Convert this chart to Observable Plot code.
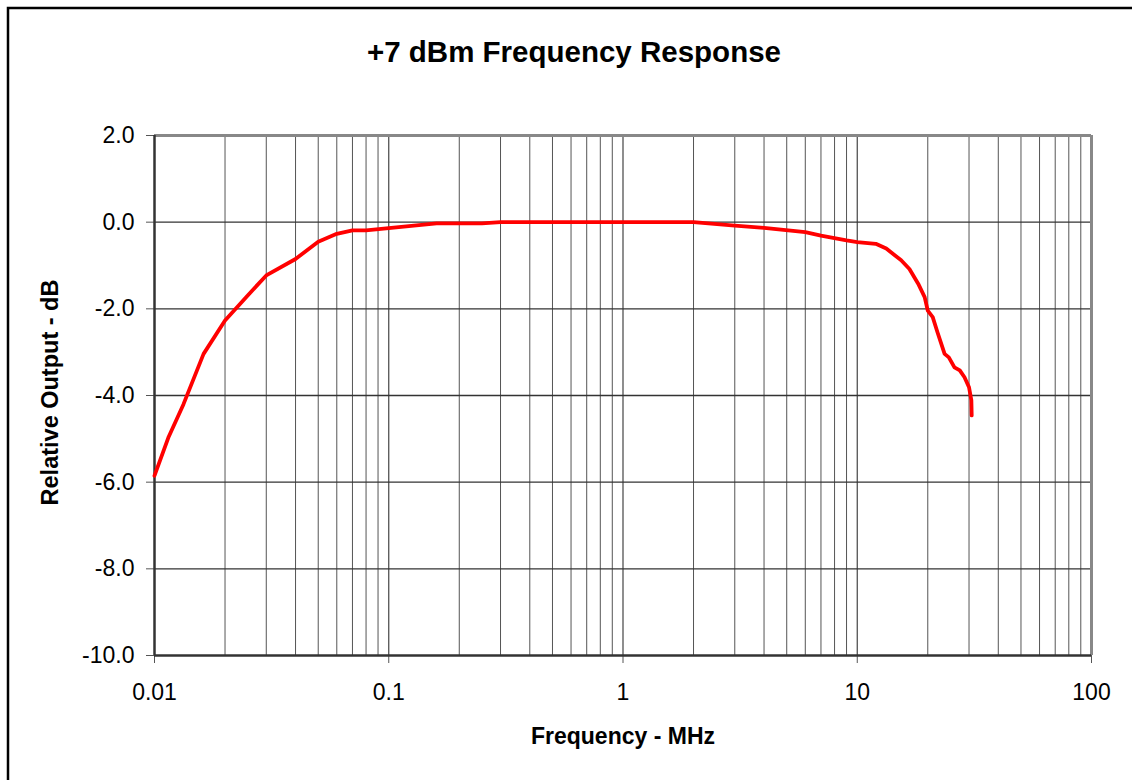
<!DOCTYPE html>
<html>
<head>
<meta charset="utf-8">
<script src="https://cdn.jsdelivr.net/npm/d3@7"></script>
<script src="https://cdn.jsdelivr.net/npm/@observablehq/plot@0.6"></script>
<style>
  html, body { margin: 0; padding: 0; background: #fff; overflow: hidden; }
  #chart { position: absolute; left: 0; top: 0; }
</style>
</head>
<body>
<div id="chart"></div>
<script>
// Data
const freqMHz = [0.01, 0.0115, 0.0133, 0.0162, 0.02, 0.025, 0.03, 0.04, 0.05, 0.06, 0.07, 0.08, 0.1, 0.16, 0.25, 0.3, 0.5, 1, 2, 3, 4, 6, 7, 9, 10, 12, 13.3, 15.4, 16.7, 18.2, 19.4, 20, 21, 22, 23.6, 24.6, 26, 27.4, 28.7, 30, 30.7, 30.8];
const relOutputDb = [-5.85, -4.95, -4.2, -3.04, -2.27, -1.69, -1.23, -0.85, -0.45, -0.27, -0.19, -0.19, -0.14, -0.03, -0.03, 0, 0, 0, 0, -0.08, -0.13, -0.23, -0.31, -0.42, -0.46, -0.5, -0.61, -0.88, -1.08, -1.42, -1.73, -2.04, -2.19, -2.54, -3.04, -3.12, -3.35, -3.42, -3.58, -3.81, -4.11, -4.46];
const xTickValues = [0.01, 0.1, 1, 10, 100];
const xTickLabels = ["0.01", "0.1", "1", "10", "100"];
const yTickValues = [2, 0, -2, -4, -6, -8, -10];
const minorMultipliers = [2, 3, 4, 5, 6, 7, 8, 9];
const titleText = "+7 dBm Frequency Response";
const xLabelText = "Frequency - MHz";
const yLabelText = "Relative Output - dB";

const data = freqMHz.map((f, i) => ({ f, db: relOutputDb[i] }));
const minorGrid = [];
for (const d of xTickValues.slice(0, -1)) for (const m of minorMultipliers) minorGrid.push(d * m);

const chart = Plot.plot({
  width: 1132,
  height: 780,
  marginLeft: 154,
  marginRight: 41,
  marginTop: 135,
  marginBottom: 125,
  style: { fontFamily: "'Liberation Sans', Arial, sans-serif", fontSize: "23px", color: "#000", background: "#fff" },
  x: { type: "log", domain: [0.01, 100] },
  y: { domain: [-10, 2] },
  marks: [
    Plot.ruleX(minorGrid, { stroke: "#555", strokeWidth: 1 }),
    Plot.ruleX(xTickValues.slice(1, -1), { stroke: "#444", strokeWidth: 1.2 }),
    Plot.ruleY(yTickValues.slice(1, -1), { stroke: "#333", strokeWidth: 1.4 }),
    Plot.ruleX([100], { stroke: "#888", strokeWidth: 3 }),
    Plot.ruleY([2], { stroke: "#888", strokeWidth: 3 }),
    Plot.axisX(xTickValues, { tickSize: 8, tickPadding: 20, stroke: "#555", tickFormat: (d) => xTickLabels[xTickValues.indexOf(d)], label: null }),
    Plot.axisY(yTickValues, { tickSize: 8, tickPadding: 12, stroke: "#555", tickFormat: (d) => d.toFixed(1), label: null }),
    Plot.ruleX([0.01], { stroke: "#333", strokeWidth: 2.5 }),
    Plot.ruleY([-10], { stroke: "#333", strokeWidth: 2.5 }),
    Plot.line(data, { x: "f", y: "db", stroke: "#ff0000", strokeWidth: 3.8, strokeLinejoin: "round" })
  ]
});

const svg = d3.select(chart);
svg.selectAll("text").attr("fill", "#000");
// outer frame (left + top edges visible)
svg.append("path").attr("d", "M8,800V8H1140").attr("fill", "none").attr("stroke", "#000").attr("stroke-width", 2.5);
svg.append("text").text(titleText)
  .attr("x", 574).attr("y", 62).attr("text-anchor", "middle")
  .attr("font-weight", "bold").attr("font-size", 29.5).attr("fill", "#000");
svg.append("text").text(xLabelText)
  .attr("x", 623).attr("y", 744).attr("text-anchor", "middle")
  .attr("font-weight", "bold").attr("font-size", 23).attr("fill", "#000");
svg.append("text").text(yLabelText)
  .attr("transform", "translate(57.5,392.5) rotate(-90)").attr("text-anchor", "middle")
  .attr("font-weight", "bold").attr("font-size", 23.5).attr("fill", "#000");

document.getElementById("chart").appendChild(chart);
</script>
</body>
</html>
